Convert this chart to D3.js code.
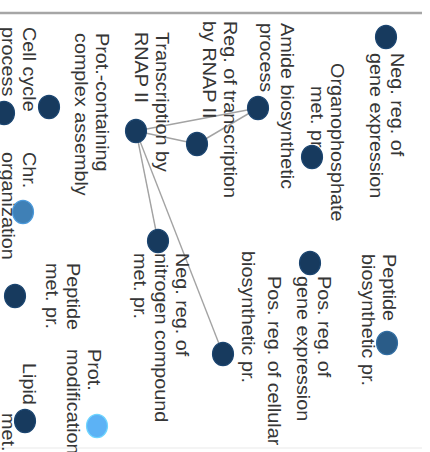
<!DOCTYPE html>
<html>
<head>
<meta charset="utf-8">
<script src="https://cdn.jsdelivr.net/npm/d3@7"></script>
<style>
  html, body { margin: 0; padding: 0; background: #fff; }
  svg { display: block; }
</style>
</head>
<body>
<svg id="chart" width="430" height="452"></svg>
<script>
// GO term network: node ids, names, layout coordinates and shade (enrichment level)
const nodeIds = ["A","B","C","D","E","F","G","H","I","J","K","L","M","N","O"];
const nodeNames = [
  "Neg. reg. of gene expression",
  "Organophosphate met. pr.",
  "Amide biosynthetic process",
  "Reg. of transcription by RNAP II",
  "Transcription by RNAP II",
  "Prot.-containing complex assembly",
  "Cell cycle process",
  "Chr. organization",
  "Neg. reg. of nitrogen compound met. pr.",
  "Peptide met. pr.",
  "Prot. modification",
  "Lipid met. pr.",
  "Peptide biosynthetic pr.",
  "Pos. reg. of gene expression",
  "Pos. reg. of cellular biosynthetic pr."
];
const layoutX = [3.7, 15.7, 10.8, 14.4, 13.1, 10.7, 11.3, 21.2, 24.1, 29.6, 42.6, 42.1, 34.3, 26.3, 35.4];
const layoutY = [4.4, 11.8, 17.2, 23.3, 29.4, 38.1, 42.6, 40.7, 27.2, 41.5, 33.3, 40.5, 4.3, 12.0, 20.7];
const shade   = [1, 1, 1, 1, 1, 1, 1, 0.42, 1, 1, 0, 1, 0.72, 1, 1];

// edges between terms
const edgeSource = ["E", "E", "D", "E", "E"];
const edgeTarget = ["D", "C", "C", "I", "O"];

// label blocks: text lines and layout anchor (start of text, first line)
const labelLines = [
  ["Neg. reg. of", "gene expression"],
  ["Organophosphate"],
  ["met. pr."],
  ["Amide biosynthetic", "process"],
  ["Reg. of transcription", "by RNAP II"],
  ["Transcription by", "RNAP II"],
  ["Prot.-containing", "complex assembly"],
  ["Cell cycle", "process"],
  ["Chr.", "organization"],
  ["Neg. reg. of", "nitrogen compound", "met. pr."],
  ["Peptide", "met. pr."],
  ["Prot.", "modification"],
  ["Lipid"],
  ["met. pr."],
  ["Peptide", "biosynthetic pr."],
  ["Pos. reg. of", "gene expression"],
  ["Pos. reg. of cellular"],
  ["biosynthetic pr."]
];
const labelX = [5.3, 6.3, 8.6, 2.3, 2.1, 3.2, 3.3, 2.7, 15.2, 25.3, 26.3, 34.9, 36.3, 41.3, 25.4, 27.6, 27.6, 25.1];
const labelY = [3.4, 9.4, 11.4, 14.4, 20.1, 26.9, 32.9, 40.2, 40.2, 24.9, 35.8, 33.7, 40.2, 42.3, 4.2, 10.7, 15.7, 18.3];

const W = 430, H = 452;
const stretch = 1.1;          // panel is drawn slightly elongated along the text direction
const innerW = H / stretch;   // unrotated panel width
const innerH = W;             // unrotated panel height

const svg = d3.select("#chart");

// panel frame lines
svg.append("line")
  .attr("x1", 0).attr("x2", 422).attr("y1", 13).attr("y2", 13)
  .attr("stroke", "#a6a6a6").attr("stroke-width", 2.5);
svg.append("line")
  .attr("x1", 0).attr("x2", 422).attr("y1", 448).attr("y2", 448)
  .attr("stroke", "#f0f0f0").attr("stroke-width", 1.5);

// the whole network panel is rotated a quarter turn clockwise
const g = svg.append("g")
  .attr("transform", `scale(1,${stretch})`)
  .append("g")
  .attr("transform", `translate(${W},0) rotate(90)`);

const x = d3.scaleLinear().domain([0, 45.2]).range([0, innerW]);
const y = d3.scaleLinear().domain([0, 43]).range([0, innerH]);
const color = d3.scaleLinear().domain([0, 1]).range(["#5cb2f5", "#173a5e"]);

const nodes = nodeIds.map((id, i) => ({
  id, name: nodeNames[i], lx: layoutX[i], ly: layoutY[i], s: shade[i]
}));
const byId = new Map(nodes.map(d => [d.id, d]));
const edges = edgeSource.map((s, i) => ({ source: byId.get(s), target: byId.get(edgeTarget[i]) }));

// edges
g.append("g")
  .selectAll("line")
  .data(edges)
  .join("line")
  .attr("x1", d => x(d.source.lx)).attr("y1", d => y(d.source.ly))
  .attr("x2", d => x(d.target.lx)).attr("y2", d => y(d.target.ly))
  .attr("stroke", "#a3a3a3")
  .attr("stroke-width", 1.4);

// labels
const fontSize = 18, lineGap = 21;
const labels = labelLines.map((lines, i) => ({ lines, lx: labelX[i], ly: labelY[i] }));
const lab = g.append("g")
  .attr("font-family", "'Liberation Sans', Arial, Helvetica, sans-serif")
  .attr("font-size", fontSize)
  .attr("fill", "#363636")
  .selectAll("text")
  .data(labels)
  .join("text")
  .attr("x", d => x(d.lx))
  .attr("y", d => y(d.ly) + 5);
lab.selectAll("tspan")
  .data(d => d.lines.map((t, k) => ({ t, k, lx: d.lx })))
  .join("tspan")
  .attr("x", d => x(d.lx))
  .attr("dy", d => d.k === 0 ? 0 : lineGap)
  .text(d => d.t);

// nodes
g.append("g")
  .selectAll("circle")
  .data(nodes)
  .join("circle")
  .attr("cx", d => x(d.lx))
  .attr("cy", d => y(d.ly))
  .attr("r", 10.5)
  .attr("fill", d => color(d.s))
  .attr("stroke", d => d3.color(color(d.s)).brighter(0.5))
  .attr("stroke-width", 1.2);
</script>
</body>
</html>
